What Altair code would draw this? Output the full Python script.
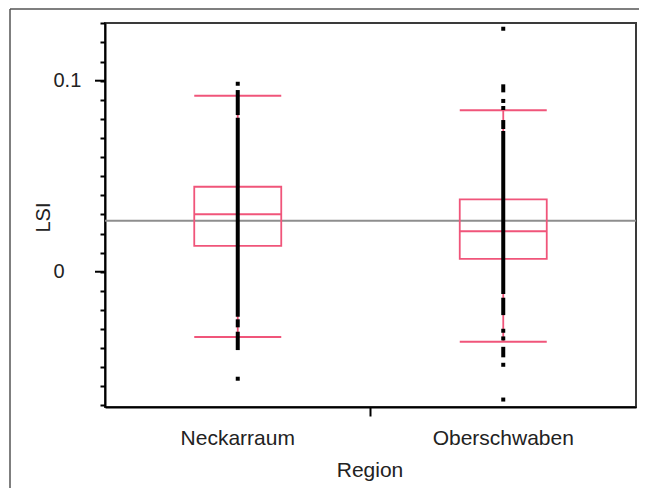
import altair as alt
import pandas as pd

# ---------------- data ----------------
regions = ["Neckarraum", "Oberschwaben"]
q1 = [0.0135, 0.0067]
medians = [0.0301, 0.0212]
q3 = [0.0445, 0.0379]
whisker_low = [-0.0342, -0.0366]
whisker_high = [0.0921, 0.0845]
grand_mean = [0.0267]

# dense stretches of overlapping points (visual extents)
run_region = ["Neckarraum", "Neckarraum", "Neckarraum", "Neckarraum",
              "Oberschwaben", "Oberschwaben", "Oberschwaben", "Oberschwaben", "Oberschwaben"]
run_low = [0.0820, -0.0236, -0.0291, -0.0410, 0.0939, 0.0747, -0.0117, -0.0227, -0.0448]
run_high = [0.0951, 0.0806, -0.0249, -0.0314, 0.0981, 0.0794, 0.0737, -0.0136, -0.0393]

# isolated points
single_region = ["Neckarraum", "Neckarraum",
                 "Oberschwaben", "Oberschwaben", "Oberschwaben", "Oberschwaben",
                 "Oberschwaben", "Oberschwaben", "Oberschwaben"]
single_lsi = [0.0984, -0.0560, 0.1272, 0.0894, 0.0857, -0.0309, -0.0349, -0.0487, -0.0669]

y_tick_values = [-0.07, -0.06, -0.05, -0.04, -0.03, -0.02, -0.01, 0.0, 0.01, 0.02, 0.03,
                 0.04, 0.05, 0.06, 0.07, 0.08, 0.09, 0.1, 0.11, 0.12, 0.13]
major_ticks = [0.0, 0.1]
y_domain = [-0.0708, 0.1302]

RED = "#f0557a"
FONT = "Liberation Sans"
TXT = "#222222"

box_df = pd.DataFrame({"region": regions, "q1": q1, "median": medians, "q3": q3,
                       "wlo": whisker_low, "whi": whisker_high})
run_df = pd.DataFrame({"region": run_region, "lo": run_low, "hi": run_high})
pt_df = pd.DataFrame({"region": single_region, "lsi": single_lsi})
mean_df = pd.DataFrame({"mean": grand_mean})
major_df = pd.DataFrame({"v": major_ticks})
frame_df = pd.DataFrame({"a": [0]})

x_axis = alt.Axis(
    title="Region", bandPosition=0, labelAngle=0,
    tickSize=9, tickWidth=2, tickColor="black",
    tickOpacity={"condition": {"test": "datum.value === 'Neckarraum'", "value": 0}, "value": 1},
    domainColor="black", domainWidth=2,
    labelFont=FONT, labelFontSize=21, labelColor=TXT, labelBaseline="alphabetic", labelPadding=28,
    titleFont=FONT, titleFontSize=21, titleFontWeight="normal", titleColor=TXT,
    titleX=264.5, titleY=69, titleAlign="center", titleBaseline="alphabetic",
)
x_scale = alt.Scale(domain=regions, paddingInner=0, paddingOuter=0)

y_axis = alt.Axis(
    title="LSI", values=y_tick_values, grid=False,
    tickSize=5, tickWidth=2, tickColor="black",
    domainColor="black", domainWidth=2,
    labelExpr="abs(datum.value) < 1e-9 ? '0' : (abs(datum.value - 0.1) < 1e-9 ? '0.1' : '')",
    labelAlign="left", labelBaseline="middle", labelPadding=47,
    labelFont=FONT, labelFontSize=20, labelColor=TXT,
    titleFont=FONT, titleFontSize=20, titleFontWeight="normal", titleColor=TXT,
    titleX=-56, titleY=194, titleAngle=270, titleAlign="center", titleBaseline="alphabetic",
)
y_scale = alt.Scale(domain=y_domain, nice=False, zero=False)


def X():
    return alt.X("region:N", scale=x_scale, axis=x_axis)


def Y(field):
    return alt.Y(field, type="quantitative", scale=y_scale, axis=y_axis)


mean_line = alt.Chart(mean_df).mark_rule(color="#8e8e8e", strokeWidth=2).encode(y=Y("mean"))

boxes = alt.Chart(box_df).mark_bar(width=87, fillOpacity=0, stroke=RED, strokeWidth=1.8).encode(
    x=X(), y=Y("q1"), y2="q3")
median_ticks = alt.Chart(box_df).mark_tick(color=RED, size=87, thickness=2, opacity=1).encode(
    x=X(), y=Y("median"))
whisker_up = alt.Chart(box_df).mark_rule(color=RED, strokeWidth=1.8).encode(
    x=X(), y=Y("q3"), y2="whi")
whisker_dn = alt.Chart(box_df).mark_rule(color=RED, strokeWidth=1.8).encode(
    x=X(), y=Y("wlo"), y2="q1")
cap_hi = alt.Chart(box_df).mark_tick(color=RED, size=87, thickness=2, opacity=1).encode(x=X(), y=Y("whi"))
cap_lo = alt.Chart(box_df).mark_tick(color=RED, size=87, thickness=2, opacity=1).encode(x=X(), y=Y("wlo"))

runs = alt.Chart(run_df).mark_rule(color="black", strokeWidth=4, strokeCap="butt").encode(
    x=X(), y=Y("lo"), y2="hi")
points = alt.Chart(pt_df).mark_square(size=16, color="black", opacity=1).encode(
    x=X(), y=Y("lsi"))

major = alt.Chart(major_df).mark_rule(color="black", strokeWidth=2).encode(
    y=Y("v"), x=alt.value(-10), x2=alt.value(0))

frame_top = alt.Chart(frame_df).mark_rule(color="#555555", strokeWidth=1.5).encode(
    x=alt.value(-95), x2=alt.value(560), y=alt.value(-14))
frame_left = alt.Chart(frame_df).mark_rule(color="#555555", strokeWidth=1.5).encode(
    x=alt.value(-95), y=alt.value(-14), y2=alt.value(480))

chart = alt.layer(
    frame_top, frame_left, mean_line, boxes, median_ticks, whisker_up, whisker_dn,
    cap_hi, cap_lo, runs, points, major
).properties(
    width=531, height=384,
    autosize=alt.AutoSizeParams(type="none"),
    padding={"left": 97, "top": 15, "right": 3, "bottom": 81},
    background="white",
).configure_view(stroke="#3a3a3a", strokeWidth=2)

chart.save("out.html", embed_options={"renderer": "svg", "actions": False})
